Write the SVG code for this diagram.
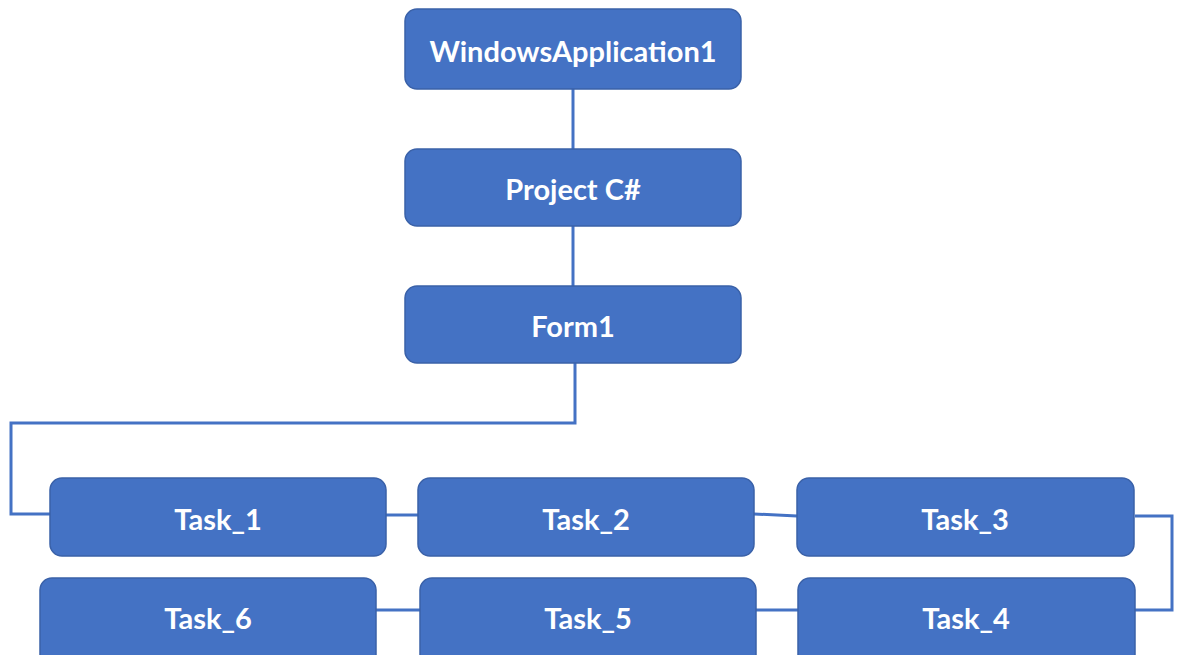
<svg xmlns="http://www.w3.org/2000/svg" width="1181" height="655" viewBox="0 0 1181 655">
<style>
.box{fill:#4472C4;stroke:#3A61A8;stroke-width:1.5}
.lbl{font-family:Lato,"Open Sans",sans-serif;font-weight:700;font-size:29px;fill:#ffffff;text-anchor:middle;dominant-baseline:central}
.con{fill:none;stroke:#4472C4;stroke-width:3}
</style>
<rect width="1181" height="655" fill="#ffffff"/>
<g id="connectors">
<path class="con" d="M573 89 V149"/>
<path class="con" d="M573 226 V286"/>
<path class="con" d="M575 363 V423 H11 V514 H50"/>
<path class="con" d="M386 515 H418"/>
<path class="con" d="M754 514 L797 516"/>
<path class="con" d="M1135 516 H1172 V610 H1135"/>
<path class="con" d="M756 610 H798"/>
<path class="con" d="M376 610 H420"/>
</g>
<g id="n-app"><rect class="box" x="405" y="9" width="336" height="80" rx="12"/><text class="lbl" x="573" y="50">WindowsApplication1</text></g>
<g id="n-project"><rect class="box" x="405" y="149" width="336" height="77" rx="12"/><text class="lbl" x="573" y="188">Project C#</text></g>
<g id="n-form1"><rect class="box" x="405" y="286" width="336" height="77" rx="12"/><text class="lbl" x="573" y="325">Form1</text></g>
<g id="n-task1"><rect class="box" x="50" y="478" width="336" height="78" rx="12"/><text class="lbl" x="218" y="518">Task_1</text></g>
<g id="n-task2"><rect class="box" x="418" y="478" width="336" height="78" rx="12"/><text class="lbl" x="586" y="518">Task_2</text></g>
<g id="n-task3"><rect class="box" x="797" y="478" width="337" height="78" rx="12"/><text class="lbl" x="965" y="518">Task_3</text></g>
<g id="n-task4"><rect class="box" x="798" y="578" width="337" height="90" rx="12"/><text class="lbl" x="966" y="617">Task_4</text></g>
<g id="n-task5"><rect class="box" x="420" y="578" width="336" height="90" rx="12"/><text class="lbl" x="588" y="617">Task_5</text></g>
<g id="n-task6"><rect class="box" x="40" y="578" width="336" height="90" rx="12"/><text class="lbl" x="208" y="617">Task_6</text></g>
</svg>
